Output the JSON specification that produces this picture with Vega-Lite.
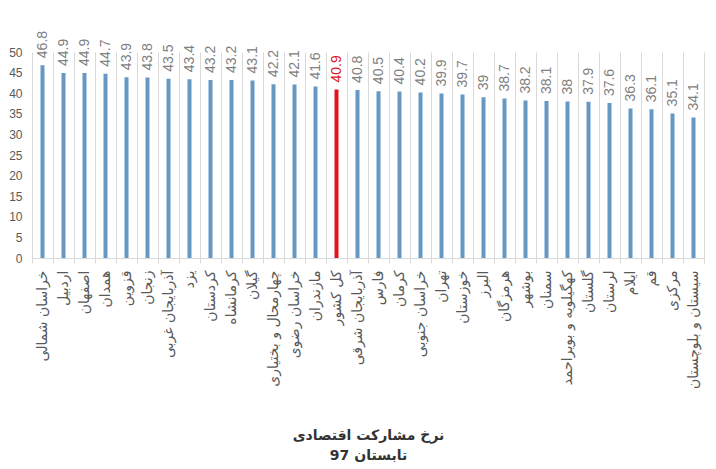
{
  "$schema": "https://vega.github.io/schema/vega-lite/v6.json",
  "autosize": {"type": "none"},
  "width": 672,
  "height": 206,
  "padding": {"left": 32, "top": 52, "right": 12, "bottom": 211},
  "background": "white",
  "config": {"view": {"stroke": null}},
  "data": {"values": [
    {"region": "خراسان شمالی", "value": 46.8, "highlight": "no"},
    {"region": "اردبیل", "value": 44.9, "highlight": "no"},
    {"region": "اصفهان", "value": 44.9, "highlight": "no"},
    {"region": "همدان", "value": 44.7, "highlight": "no"},
    {"region": "قزوین", "value": 43.9, "highlight": "no"},
    {"region": "زنجان", "value": 43.8, "highlight": "no"},
    {"region": "آذربایجان غربی", "value": 43.5, "highlight": "no"},
    {"region": "یزد", "value": 43.4, "highlight": "no"},
    {"region": "کردستان", "value": 43.2, "highlight": "no"},
    {"region": "کرمانشاه", "value": 43.2, "highlight": "no"},
    {"region": "گیلان", "value": 43.1, "highlight": "no"},
    {"region": "چهارمحال و بختیاری", "value": 42.2, "highlight": "no"},
    {"region": "خراسان رضوی", "value": 42.1, "highlight": "no"},
    {"region": "مازندران", "value": 41.6, "highlight": "no"},
    {"region": "کل کشور", "value": 40.9, "highlight": "yes"},
    {"region": "آذربایجان شرقی", "value": 40.8, "highlight": "no"},
    {"region": "فارس", "value": 40.5, "highlight": "no"},
    {"region": "کرمان", "value": 40.4, "highlight": "no"},
    {"region": "خراسان جنوبی", "value": 40.2, "highlight": "no"},
    {"region": "تهران", "value": 39.9, "highlight": "no"},
    {"region": "خوزستان", "value": 39.7, "highlight": "no"},
    {"region": "البرز", "value": 39, "highlight": "no"},
    {"region": "هرمزگان", "value": 38.7, "highlight": "no"},
    {"region": "بوشهر", "value": 38.2, "highlight": "no"},
    {"region": "سمنان", "value": 38.1, "highlight": "no"},
    {"region": "کهگیلویه و بویراحمد", "value": 38, "highlight": "no"},
    {"region": "گلستان", "value": 37.9, "highlight": "no"},
    {"region": "لرستان", "value": 37.6, "highlight": "no"},
    {"region": "ایلام", "value": 36.3, "highlight": "no"},
    {"region": "قم", "value": 36.1, "highlight": "no"},
    {"region": "مرکزی", "value": 35.1, "highlight": "no"},
    {"region": "سیستان و بلوچستان", "value": 34.1, "highlight": "no"}
  ]},
  "encoding": {
    "x": {
      "field": "region", "type": "nominal", "sort": null,
      "scale": {"paddingInner": 0, "paddingOuter": 0},
      "axis": {
        "title": ["نرخ مشارکت اقتصادی", "تابستان 97"],
        "titleFont": "DejaVu Sans", "titleFontSize": 14, "titleFontWeight": "bold",
        "titleColor": "#333333", "titleLineHeight": 20, "titleBaseline": "top",
        "titleY": 170, "titleX": 336,
        "labelAngle": -90, "labelFont": "DejaVu Sans", "labelFontSize": 14,
        "labelColor": "#595959", "labelPadding": 7, "labelLimit": 200,
        "tickBand": "extent", "tickSize": 5, "tickColor": "#D9D9D9",
        "domainColor": "#D9D9D9", "grid": true, "gridColor": "#D9D9D9"
      }
    },
    "y": {
      "field": "value", "type": "quantitative",
      "scale": {"domain": [0, 50], "nice": false},
      "axis": {
        "title": null, "values": [0, 5, 10, 15, 20, 25, 30, 35, 40, 45, 50],
        "grid": false, "domain": false, "ticks": false, "labelPadding": 10,
        "labelFont": "Liberation Sans", "labelFontSize": 12, "labelColor": "#595959"
      }
    }
  },
  "layer": [
    {
      "mark": {"type": "bar", "size": 4},
      "encoding": {
        "color": {
          "condition": {"test": "datum.highlight === 'yes'", "value": "#E0141E"},
          "value": "#6798C4"
        }
      }
    },
    {
      "mark": {"type": "text", "angle": -90, "align": "left", "baseline": "middle", "dx": 7,
        "font": "Liberation Sans", "fontSize": 14},
      "encoding": {
        "text": {"field": "value", "type": "quantitative"},
        "color": {
          "condition": {"test": "datum.highlight === 'yes'", "value": "#E0141E"},
          "value": "#808080"
        },
        "fontWeight": {
          "condition": {"test": "datum.highlight === 'yes'", "value": "bold"},
          "value": "normal"
        }
      }
    }
  ]
}
